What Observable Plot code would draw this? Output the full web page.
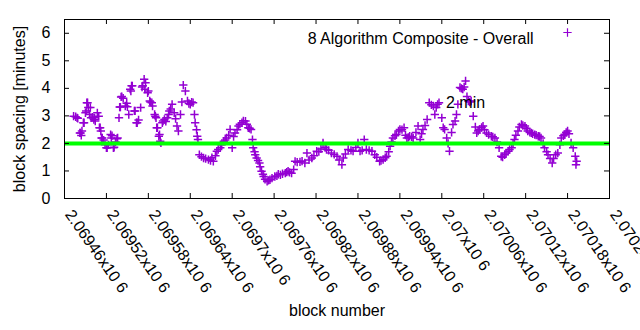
<!DOCTYPE html>
<html><head><meta charset="utf-8">
<script src="https://cdn.jsdelivr.net/npm/d3@7"></script>
<script src="https://cdn.jsdelivr.net/npm/@observablehq/plot@0.6"></script>
<style>body{margin:0;background:#fff;overflow:hidden}</style>
</head><body><div id="chart"></div>
<script>
const blocks = [
2069473,2069476,2069478,2069479,2069482,2069483,2069484,2069485,2069487,2069488,
2069490,2069491,2069492,2069493,2069494,2069496,2069497,2069498,2069500,2069502,
2069503,2069504,2069507,2069509,2069510,2069511,2069512,2069513,2069514,2069516,
2069518,2069520,2069521,2069523,2069526,2069527,2069528,2069530,2069531,2069533,
2069535,2069536,2069538,2069539,2069540,2069541,2069542,2069544,2069547,2069549,
2069550,2069552,2069554,2069555,2069556,2069557,2069560,2069561,2069563,2069564,
2069566,2069569,2069571,2069572,2069574,2069575,2069576,2069579,2069580,2069582,
2069583,2069585,2069586,2069589,2069590,2069591,2069592,2069593,2069595,2069596,
2069597,2069598,2069600,2069601,2069603,2069605,2069607,2069609,2069610,2069612,
2069614,2069617,2069619,2069621,2069623,2069626,2069628,2069630,2069633,2069636,
2069638,2069640,2069642,2069644,2069646,2069647,2069649,2069650,2069651,2069653,
2069656,2069659,2069662,2069666,2069669,2069671,2069673,2069676,2069678,2069680,
2069683,2069685,2069688,2069690,2069692,2069695,2069697,2069700,2069702,2069704,
2069707,2069709,2069711,2069714,2069716,2069719,2069721,2069723,2069725,2069727,
2069729,2069730,2069732,2069733,2069735,2069737,2069739,2069740,2069742,2069744,
2069745,2069747,2069750,2069752,2069754,2069757,2069761,2069764,2069766,2069769,
2069772,2069776,2069778,2069780,2069782,2069785,2069788,2069790,2069793,2069797,
2069800,2069804,2069807,2069810,2069814,2069817,2069821,2069824,2069827,2069830,
2069833,2069835,2069838,2069842,2069846,2069850,2069853,2069857,2069859,2069862,
2069866,2069870,2069873,2069877,2069880,2069883,2069886,2069889,2069892,2069896,
2069900,2069904,2069907,2069911,2069913,2069916,2069919,2069921,2069924,2069926,
2069928,2069930,2069933,2069935,2069938,2069940,2069943,2069946,2069948,2069950,
2069952,2069954,2069957,2069959,2069963,2069966,2069969,2069971,2069973,2069976,
2069979,2069982,2069985,2069988,2069990,2069992,2069994,2069996,2070000,2070002,
2070004,2070007,2070009,2070011,2070014,2070016,2070019,2070021,2070023,2070026,
2070028,2070030,2070032,2070034,2070036,2070038,2070040,2070042,2070045,2070048,
2070050,2070052,2070054,2070057,2070059,2070061,2070064,2070067,2070071,2070073,
2070076,2070079,2070082,2070085,2070087,2070090,2070092,2070095,2070097,2070100,
2070102,2070104,2070106,2070109,2070111,2070114,2070116,2070119,2070121,2070123,
2070126,2070128,2070130,2070133,2070135,2070138,2070140,2070142,2070145,2070147,
2070150,2070152,2070155,2070158,2070160,2070163,2070166,2070169,2070171,2070174,
2070176,2070178,2070180,2070182,2070185,2070188,2070191,2070192,2070193
];
const spacing = [
2.99,2.97,2.93,2.91,2.38,2.38,2.29,2.45,2.75,2.75,
3.11,3.18,3.48,3.48,3.30,3.05,3.30,2.93,2.95,2.87,
2.93,2.81,3.11,2.99,2.57,2.57,2.45,2.20,2.20,2.12,
1.95,1.84,1.84,1.95,2.32,2.20,2.28,1.84,1.86,2.05,
2.17,2.20,2.93,3.32,3.32,3.69,3.70,3.64,3.36,3.46,
3.33,3.05,3.97,3.90,4.09,4.09,3.18,3.18,2.75,2.75,
2.85,3.30,4.05,4.09,4.33,3.97,4.20,3.84,3.90,3.54,
3.50,3.48,3.36,3.05,2.99,2.93,2.57,2.57,2.26,2.32,
2.08,2.02,2.75,2.81,2.87,2.80,2.93,3.05,3.18,3.25,
3.42,3.11,2.90,2.63,2.45,3.05,3.50,4.12,3.90,3.54,
3.45,3.42,3.50,3.48,3.05,2.75,2.50,2.26,2.14,1.59,
1.52,1.47,1.45,1.41,1.38,1.48,1.35,1.55,1.72,1.78,
1.84,1.95,2.08,2.12,2.20,2.30,2.51,1.84,2.25,2.38,
2.50,2.63,2.70,2.75,2.82,2.81,2.70,2.57,2.55,2.51,
2.14,1.84,1.70,1.59,1.47,1.38,1.29,1.15,0.99,0.88,
0.80,0.70,0.62,0.66,0.68,0.74,0.80,0.82,0.88,0.86,
0.90,0.92,0.96,0.99,0.95,0.92,1.05,1.35,1.32,1.33,
1.36,1.29,1.65,1.40,1.47,1.55,1.72,1.70,1.80,2.02,
1.85,1.78,1.75,1.65,1.60,1.53,1.40,1.23,1.47,1.62,
1.78,1.75,1.72,1.85,2.02,1.72,1.75,2.14,1.78,1.75,
1.72,1.59,1.50,1.35,1.38,1.41,1.48,1.53,1.70,1.90,
2.05,2.20,2.28,2.32,2.45,2.51,2.50,2.57,2.30,2.20,
2.22,2.26,2.24,2.20,2.40,2.63,2.14,2.35,2.51,2.65,
2.87,3.48,3.40,3.36,3.05,3.30,3.42,3.48,2.93,2.57,
2.51,2.20,2.00,1.72,2.40,2.69,2.81,3.05,3.42,4.03,
4.00,3.97,4.05,4.27,3.70,3.54,3.50,3.54,2.99,2.60,
2.38,2.45,2.51,2.58,2.63,2.50,2.38,2.32,2.26,2.24,
2.20,2.05,1.84,1.53,1.50,1.59,1.65,1.72,1.78,1.84,
2.00,2.14,2.30,2.45,2.60,2.69,2.65,2.63,2.55,2.45,
2.40,2.38,2.35,2.32,2.30,2.26,2.25,2.20,2.00,1.84,
1.70,1.59,1.45,1.29,1.45,1.59,1.65,1.95,2.20,2.28,
2.32,2.40,2.45,2.35,2.02,1.84,1.53,1.23,1.35
];
const xTicks = [2069460,2069520,2069580,2069640,2069700,2069760,2069820,2069880,2069940,2070000,2070060,2070120,2070180,2070240];
const xTickLabels = ["2.06946x10 6","2.06952x10 6","2.06958x10 6","2.06964x10 6","2.0697x10 6","2.06976x10 6","2.06982x10 6","2.06988x10 6","2.06994x10 6","2.07x10 6","2.07006x10 6","2.07012x10 6","2.07018x10 6","2.07024x10 6"];
const yTicks = [0,1,2,3,4,5,6];
const targetLine = [2];
const seriesName = "8 Algorithm Composite - Overall";
const annotations = [{block: 2070006, value: 3.48, text: "2 min"}];
const xLabel = "block number";
const yLabel = "block spacing [minutes]";

const data = blocks.map((b, i) => ({block: b, spacing: spacing[i]}));
const purple = "#9400d3";
const fw = 640 - 64 - 31, fh = 330 - 19 - 132;

const chart = Plot.plot({
  width: 640, height: 330,
  marginLeft: 64, marginRight: 31, marginTop: 19, marginBottom: 132,
  style: {fontFamily: "'Liberation Sans', Arial, sans-serif", fontSize: "16px", background: "#fff", color: "#000", overflow: "hidden"},
  x: {domain: [2069460, 2070240], axis: null},
  y: {domain: [0, 6.5], axis: null},
  marks: [
    Plot.dot(data, {x: "block", y: "spacing", symbol: "plus", r: 2.8, stroke: purple, strokeWidth: 1.5}),
    Plot.ruleY(targetLine, {stroke: "#00ff00", strokeWidth: 4}),
    Plot.frame({stroke: "#000", strokeWidth: 1}),
    Plot.tickX(xTicks, {x: d => d, insetTop: fh - 5, stroke: "#000"}),
    Plot.tickX(xTicks, {x: d => d, insetBottom: fh - 5, stroke: "#000"}),
    Plot.tickY(yTicks, {y: d => d, insetRight: fw - 5, stroke: "#000"}),
    Plot.tickY(yTicks, {y: d => d, insetLeft: fw - 5, stroke: "#000"}),
    Plot.text(yTicks, {y: d => d, text: d => String(d), frameAnchor: "left", dx: -14, textAnchor: "end", fontSize: 16, fill: "#000"}),
    Plot.text(xTicks, {x: d => d, text: (d, i) => xTickLabels[i], frameAnchor: "bottom", dy: 16, rotate: 55, textAnchor: "start", fontSize: 16, fill: "#000"}),
    Plot.text([yLabel], {text: d => d, frameAnchor: "left", dx: -45, rotate: -90, textAnchor: "middle", fontSize: 16, fill: "#000"}),
    Plot.text([xLabel], {text: d => d, frameAnchor: "bottom", dy: 117, textAnchor: "middle", fontSize: 16, fill: "#000"}),
    Plot.text(annotations, {x: "block", y: "value", text: "text", textAnchor: "start", fontSize: 16, fill: "#000"}),
    Plot.text([seriesName], {text: d => d, frameAnchor: "top-right", dx: -76, dy: 13, textAnchor: "end", fontSize: 16, fill: "#000"}),
    Plot.dot([seriesName], {frameAnchor: "top-right", dx: -42, dy: 13, symbol: "plus", r: 2.8, stroke: purple, strokeWidth: 1.2})
  ]
});
document.getElementById("chart").appendChild(chart);
</script>
</body></html>
